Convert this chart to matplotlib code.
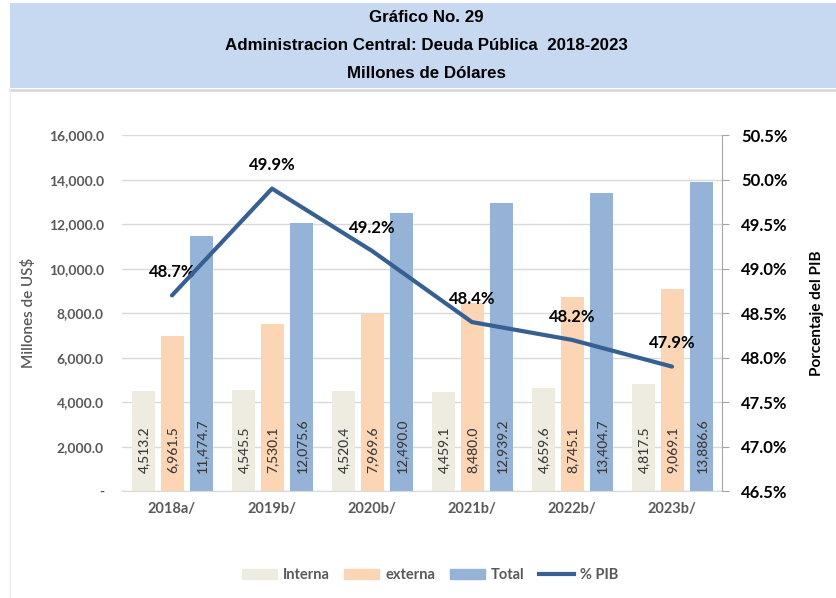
import matplotlib
matplotlib.use("Agg")
import matplotlib.pyplot as plt
from matplotlib.patches import Rectangle, Patch
from matplotlib.lines import Line2D
from matplotlib.ticker import FuncFormatter, MultipleLocator
import numpy as np

plt.rcParams['font.family'] = ['Lato', 'DejaVu Sans']
plt.rcParams['font.weight'] = 'bold'

# datos
years = ["2018a/", "2019b/", "2020b/", "2021b/", "2022b/", "2023b/"]
interna = [4513.2, 4545.5, 4520.4, 4459.1, 4659.6, 4817.5]
externa = [6961.5, 7530.1, 7969.6, 8480.0, 8745.1, 9069.1]
total = [11474.7, 12075.6, 12490.0, 12939.2, 13404.7, 13886.6]
pib = [48.7, 49.9, 49.2, 48.4, 48.2, 47.9]

c_int = '#EEECE1'
c_ext = '#FCD5B5'
c_tot = '#95B3D7'
c_pib = '#366092'
gray = '#595959'

W, H = 836, 598
fig = plt.figure(figsize=(W / 100, H / 100), dpi=100)

# banda del titulo
fig.patches.append(Rectangle((10 / W, 1 - 88 / H), 1, 85 / H, transform=fig.transFigure,
                             facecolor='#C6D9F1', edgecolor='none', zorder=0))
fig.lines.append(Line2D([10 / W, 1], [1 - 90 / H] * 2, transform=fig.transFigure,
                        color='#D9D9D9', lw=2))
fig.lines.append(Line2D([10 / W] * 2, [0, 1 - 90 / H], transform=fig.transFigure,
                        color='#EDEDED', lw=1))

tfont = dict(family=['Liberation Sans', 'DejaVu Sans'], fontweight='bold',
             fontsize=12.2, color='black', ha='center', va='center')
fig.text(426 / W, 1 - 18 / H, "Gráfico No. 29", **tfont)
fig.text(426 / W, 1 - 46 / H, "Administracion Central: Deuda Pública  2018-2023", **tfont)
fig.text(426 / W, 1 - 73 / H, "Millones de Dólares", **tfont)

ax = fig.add_axes([122 / W, 1 - 491.2 / H, 600 / W, 356 / H])
x = np.arange(len(years))
bw = 0.23
off = 0.29
b1 = ax.bar(x - off, interna, bw, color=c_int, zorder=2)
b2 = ax.bar(x, externa, bw, color=c_ext, zorder=2)
b3 = ax.bar(x + off, total, bw, color=c_tot, zorder=2)

# etiquetas de valor dentro de las barras
for bars, vals in ((b1, interna), (b2, externa), (b3, total)):
    for r, v in zip(bars, vals):
        ax.annotate(f"{v:,.1f}", (r.get_x() + r.get_width() / 2, 0), xytext=(0.5, 13),
                    textcoords='offset points', rotation=90, ha='center', va='bottom',
                    fontsize=10, fontweight='medium', color='#3A3A3A', zorder=3)

ax.set_xlim(-0.5, 5.5)
ax.set_ylim(0, 16000)
ax.yaxis.set_major_locator(MultipleLocator(2000))
ax.yaxis.set_major_formatter(FuncFormatter(lambda v, p: "-" if v == 0 else f"{v:,.1f}"))
ax.grid(axis='y', color='#D9D9D9', lw=1, zorder=0)
ax.set_axisbelow(True)
for s in ('top', 'right', 'left'):
    ax.spines[s].set_visible(False)
ax.spines['bottom'].set_color('#D9D9D9')
ax.tick_params(axis='y', length=0, pad=13, labelsize=10, labelcolor=gray)
ax.tick_params(axis='x', length=0, pad=8, labelsize=10.5, labelcolor=gray)
ax.set_xticks(x)
ax.set_xticklabels(years)
ax.set_ylabel("Millones de US$", fontsize=11, fontweight='semibold', color=gray, labelpad=9)

ax2 = ax.twinx()
ax2.plot(x, pib, color=c_pib, lw=3, zorder=4, solid_capstyle='round')
for xi, v in zip(x, pib):
    ax2.annotate(f"{v:.1f}%", (xi, v), xytext=(0, 11), textcoords='offset points',
                 ha='center', va='bottom', fontsize=12, color='black')
ax2.set_ylim(46.5, 50.5)
ax2.yaxis.set_major_locator(MultipleLocator(0.5))
ax2.yaxis.set_major_formatter(FuncFormatter(lambda v, p: f"{v:.1f}%"))
for s in ('top', 'left', 'bottom'):
    ax2.spines[s].set_visible(False)
ax2.spines['right'].set_color('#A6A6A6')
ax2.tick_params(axis='y', length=5, color='#A6A6A6', pad=9, labelsize=12, labelcolor='black')
ax2.set_ylabel("Porcentaje del PIB", fontsize=11, fontweight='bold', color='black', labelpad=16)

handles = [Patch(color=c_int), Patch(color=c_ext), Patch(color=c_tot),
           Line2D([], [], color=c_pib, lw=3)]
leg = fig.legend(handles, ["Interna", "externa", "Total", "% PIB"], loc='center',
                 bbox_to_anchor=(430 / W, 1 - 575 / H), ncol=4, frameon=False,
                 handlelength=2.4, handleheight=0.7, columnspacing=1.0, handletextpad=0.4,
                 prop={'weight': 'bold', 'size': 10.5})
for t in leg.get_texts():
    t.set_color(gray)

fig.savefig("out.png", dpi=100)
